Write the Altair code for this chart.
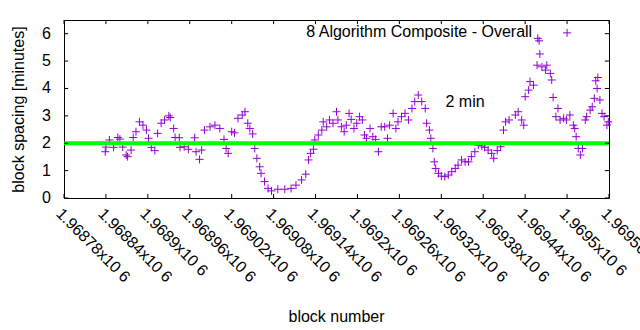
import altair as alt
import pandas as pd

# ---- data ----
blocks = [
    1968839, 1968840, 1968845, 1968851, 1968857, 1968860, 1968864, 1968869, 1968871, 1968876,
    1968879, 1968883, 1968888, 1968893, 1968898, 1968901, 1968905, 1968910, 1968914, 1968919,
    1968924, 1968930, 1968932, 1968937, 1968939, 1968945, 1968946, 1968952, 1968958, 1968967,
    1968969, 1968974, 1968977, 1968981, 1968989, 1968996, 1969003, 1969009, 1969012, 1969015,
    1969020, 1969024, 1969029, 1969035, 1969039, 1969043, 1969046, 1969050, 1969053, 1969056,
    1969060, 1969062, 1969067, 1969072, 1969077, 1969086, 1969096, 1969105, 1969112, 1969120,
    1969126, 1969130, 1969133, 1969137, 1969139, 1969144, 1969149, 1969151, 1969156, 1969160,
    1969165, 1969170, 1969172, 1969177, 1969181, 1969184, 1969188, 1969191, 1969195, 1969199,
    1969203, 1969207, 1969210, 1969213, 1969218, 1969222, 1969226, 1969230, 1969234, 1969239,
    1969243, 1969246, 1969251, 1969255, 1969258, 1969263, 1969268, 1969273, 1969278, 1969282,
    1969287, 1969292, 1969297, 1969299, 1969303, 1969305, 1969308, 1969310, 1969312, 1969316,
    1969320, 1969325, 1969330, 1969335, 1969340, 1969344, 1969349, 1969354, 1969359, 1969363,
    1969368, 1969373, 1969378, 1969382, 1969387, 1969392, 1969395, 1969400, 1969405, 1969409,
    1969412, 1969417, 1969426, 1969430, 1969435, 1969438, 1969440, 1969445, 1969447, 1969452,
    1969457, 1969458, 1969460, 1969461, 1969464, 1969469, 1969471, 1969476, 1969478, 1969480,
    1969484, 1969487, 1969490, 1969495, 1969499, 1969500, 1969504, 1969509, 1969511, 1969513,
    1969516, 1969519, 1969522, 1969526, 1969528, 1969533, 1969536, 1969539, 1969541, 1969543,
    1969544, 1969547, 1969550, 1969553, 1969557, 1969559,
]
spacing = [
    1.69, 1.86, 2.12, 1.85, 2.21, 2.15, 1.86, 1.57, 1.51, 1.75,
    2.21, 2.42, 2.78, 2.66, 2.48, 2.18, 1.85, 1.73, 2.36, 2.73,
    2.85, 3.00, 2.94, 2.54, 2.21, 2.20, 1.85, 1.87, 1.78, 2.20,
    1.69, 1.41, 1.75, 2.48, 2.60, 2.66, 2.54, 2.14, 1.81, 1.63,
    2.42, 2.38, 2.91, 3.03, 3.15, 2.73, 2.54, 2.34, 1.81, 1.45,
    1.14, 0.90, 0.60, 0.35, 0.26, 0.32, 0.32, 0.35, 0.47, 0.66,
    0.87, 1.39, 1.63, 1.78, 2.12, 2.30, 2.48, 2.78, 2.60, 2.85,
    2.73, 3.15, 2.85, 2.60, 2.42, 2.66, 3.09, 2.87, 2.54, 2.73,
    2.97, 2.85, 2.30, 2.18, 2.54, 2.24, 2.14, 1.69, 2.60, 2.60,
    2.18, 2.66, 3.09, 2.54, 2.78, 2.97, 3.09, 2.85, 3.27, 3.52,
    3.76, 3.52, 3.27, 2.73, 2.48, 2.18, 1.81, 1.32, 1.08, 0.90,
    0.80, 0.78, 0.84, 0.96, 1.08, 1.20, 1.39, 1.32, 1.32, 1.51,
    1.69, 1.93, 1.90, 1.85, 1.75, 1.63, 1.45, 1.73, 1.87, 2.48,
    2.78, 2.85, 3.03, 3.15, 2.85, 2.66, 3.70, 3.94, 4.25, 4.12,
    4.85, 5.83, 5.74, 5.26, 4.79, 4.67, 4.85, 4.55, 4.31, 3.67,
    2.97, 3.27, 2.85, 2.91, 2.85, 6.03, 3.03, 2.66, 2.54, 2.24,
    1.81, 1.57, 1.81, 2.85, 2.97, 3.21, 3.33, 3.64, 4.28, 4.00,
    4.40, 3.58, 3.09, 2.97, 2.66, 2.78,
]
x_ticks = [1968780, 1968840, 1968900, 1968960, 1969020, 1969080, 1969140,
           1969200, 1969260, 1969320, 1969380, 1969440, 1969500, 1969560]
y_ticks = [0, 1, 2, 3, 4, 5, 6]
y_tick_labels = ["0", "1", "2", "3", "4", "5", "6"]
target = [2]
labels = ["8 Algorithm Composite - Overall", "2 min"]
label_x = [1969450, 1969326]
label_y = [5.88, 3.32]

X_DOM = [1968780, 1969560]
Y_DOM = [0, 6.5]
FONT = "Liberation Sans"
PURPLE = "#9400d3"

xs = alt.Scale(domain=X_DOM, nice=False, zero=False)
ys = alt.Scale(domain=Y_DOM, nice=False, zero=False)

x_axis = alt.Axis(values=x_ticks, grid=False, ticks=False, domain=False,
                  labelExpr="format(datum.value / 1000000, '.5~f') + 'x10 6'",
                  labelAngle=45, labelAlign="left", labelBaseline="top",
                  labelPadding=7, labelOverlap=False, labelFlush=False,
                  labelBound=False, labelFontSize=16, labelFont=FONT,
                  labelColor="black", titleFontSize=16, titleFont=FONT,
                  titleFontWeight="normal", titleColor="black",
                  titleX=272, titleY=118, titleBaseline="middle")
# y tick labels are drawn as a text layer below; the axis carries the title
y_axis = alt.Axis(values=y_ticks, grid=False, ticks=False, domain=False,
                  labels=False, titleFontSize=16, titleFont=FONT,
                  titleFontWeight="normal", titleColor="black",
                  titleX=-46, titleY=89, titleAngle=-90,
                  titleBaseline="middle", titleAlign="center")

X = lambda: alt.X("block:Q", scale=xs, title="block number", axis=x_axis)
Y = lambda: alt.Y("spacing:Q", scale=ys, title="block spacing [minutes]", axis=y_axis)

df = pd.DataFrame({"block": blocks, "spacing": spacing})
points = alt.Chart(df).mark_point(
    shape="M-1,0L1,0M0,-1L0,1", filled=False, strokeWidth=1, size=64,
    color=PURPLE, opacity=1,
).encode(x=X(), y=Y())

green = alt.Chart(pd.DataFrame({"spacing": target})).mark_rule(
    color="#00ff00", strokeWidth=4
).encode(y=Y())

tdf = pd.DataFrame({"label": labels, "block": label_x, "spacing": label_y})
text_r = alt.Chart(tdf.iloc[[0]]).mark_text(
    align="right", baseline="alphabetic", fontSize=16, font=FONT, color="black"
).encode(x=X(), y=Y(), text="label:N")
text_l = alt.Chart(tdf.iloc[[1]]).mark_text(
    align="left", baseline="alphabetic", fontSize=16, font=FONT, color="black"
).encode(x=X(), y=Y(), text="label:N")

# inward (mirrored) tick marks and y tick labels, placed through the scales
xt = pd.DataFrame({"block": x_ticks})
yt = pd.DataFrame({"spacing": y_ticks, "lab": y_tick_labels})
tick_bottom = alt.Chart(xt).mark_rule(color="black", strokeWidth=1).encode(
    x=X(), y=alt.datum(0), y2=alt.datum(0.15))
tick_top = alt.Chart(xt).mark_rule(color="black", strokeWidth=1).encode(
    x=X(), y=alt.datum(6.5), y2=alt.datum(6.35))
tick_left = alt.Chart(yt).mark_rule(color="black", strokeWidth=1).encode(
    y=Y(), x=alt.datum(1968780), x2=alt.datum(1968786))
tick_right = alt.Chart(yt).mark_rule(color="black", strokeWidth=1).encode(
    y=Y(), x=alt.datum(1969560), x2=alt.datum(1969554))
ylabels = alt.Chart(yt).mark_text(
    align="right", baseline="middle", dx=-13, fontSize=16, font=FONT, color="black"
).encode(y=Y(), x=alt.datum(1968780), text="lab:N")

chart = alt.layer(
    points, green, text_r, text_l, tick_bottom, tick_top, tick_left, tick_right, ylabels
).properties(
    width=545, height=178,
    autosize=alt.AutoSizeParams(type="none"),
    padding={"left": 64, "top": 20, "right": 31, "bottom": 132},
    background="white",
).configure_view(stroke="black", strokeWidth=1)

chart.save("out.html", embed_options={"renderer": "svg", "actions": False})
